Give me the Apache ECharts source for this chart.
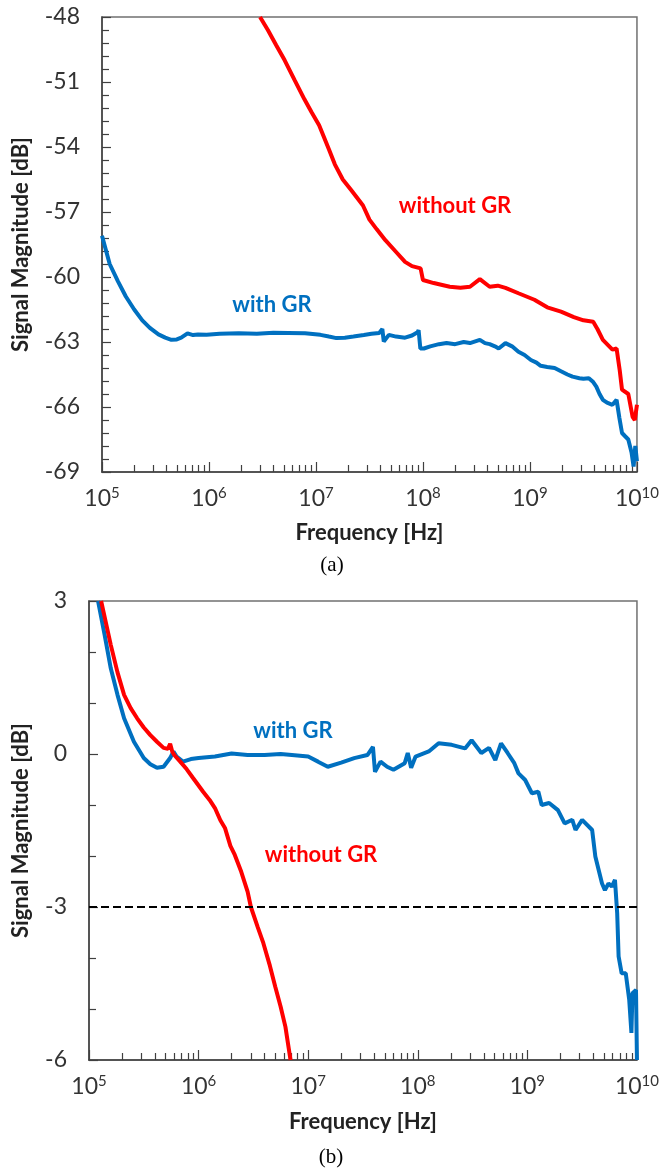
<!DOCTYPE html>
<html>
<head>
<meta charset="utf-8">
<script src="https://cdn.jsdelivr.net/npm/echarts@6/dist/echarts.min.js"></script>
<style>
  html, body { margin: 0; padding: 0; background: #fff; }
  #main { width: 662px; height: 1168px; }
</style>
</head>
<body>
<div id="main"></div>
<script>
// (a) with GR
const freqAWith = [1.0e5, 1.18e5, 1.41e5, 1.67e5, 2.0e5, 2.38e5, 2.8e5, 3.37e5, 3.9e5, 4.45e5, 5.0e5, 5.5e5, 6.3e5, 7.1e5, 7.9e5, 9.5e5,
  1.26e6, 1.9e6, 2.8e6, 4.0e6, 5.5e6, 7.9e6, 1.1e7, 1.32e7, 1.55e7, 1.86e7, 2.24e7, 2.8e7, 3.3e7, 3.9e7, 4.17e7, 4.3e7, 4.8e7,
  5.6e7, 6.8e7, 7.9e7, 8.9e7, 9.1e7, 9.45e7, 1.02e8, 1.17e8, 1.41e8, 1.66e8, 2.0e8, 2.4e8, 2.75e8, 3.4e8, 3.8e8, 4.2e8, 4.7e8,
  5.1e8, 5.9e8, 6.8e8, 7.8e8, 8.9e8, 1.02e9, 1.15e9, 1.26e9, 1.45e9, 1.7e9, 1.95e9, 2.24e9, 2.5e9, 2.9e9, 3.16e9, 3.55e9, 3.9e9,
  4.17e9, 4.47e9, 4.8e9, 5.25e9, 5.9e9, 6.45e9, 6.85e9, 7.25e9, 7.75e9, 8.3e9, 8.9e9, 9.3e9, 9.65e9, 1.0e10]
const magAWith = [-58.1, -59.4, -60.2, -60.9, -61.5, -62.0, -62.35, -62.65, -62.8, -62.9, -62.88, -62.8, -62.6, -62.68, -62.65, -62.67,
  -62.62, -62.6, -62.62, -62.57, -62.58, -62.6, -62.67, -62.75, -62.82, -62.8, -62.75, -62.68, -62.62, -62.58, -62.4, -62.98, -62.67,
  -62.75, -62.8, -62.7, -62.55, -62.45, -63.3, -63.3, -63.2, -63.1, -63.05, -63.1, -63.0, -63.05, -62.9, -63.05, -63.1, -63.2,
  -63.3, -63.05, -63.2, -63.45, -63.6, -63.83, -63.95, -64.1, -64.15, -64.2, -64.35, -64.5, -64.6, -64.67, -64.7, -64.67, -64.85,
  -65.06, -65.4, -65.67, -65.8, -65.9, -65.67, -66.5, -67.2, -67.35, -67.5, -68.1, -68.75, -67.8, -68.5]

// (a) without GR
const freqANo = [3.0e6, 3.55e6, 4.25e6, 5.1e6, 6.3e6, 7.8e6, 9.1e6, 1.07e7, 1.32e7, 1.5e7, 1.78e7, 2.14e7, 2.75e7, 3.16e7, 3.7e7,
  4.45e7, 5.5e7, 6.8e7, 7.9e7, 9.5e7, 1.0e8, 1.26e8, 1.78e8, 2.24e8, 2.75e8, 3.4e8, 4.2e8, 5.0e8, 5.9e8, 7.8e8, 1.1e9, 1.45e9,
  1.95e9, 2.57e9, 3.16e9, 3.9e9, 4.27e9, 4.8e9, 5.9e9, 6.45e9, 6.9e9, 7.25e9, 8.3e9, 9.1e9, 9.55e9, 1.0e10]
const magANo = [-48.0, -48.6, -49.3, -50.0, -50.9, -51.8, -52.4, -53.0, -54.1, -54.8, -55.5, -56.0, -56.7, -57.35, -57.8,
  -58.3, -58.8, -59.3, -59.5, -59.6, -60.14, -60.28, -60.45, -60.5, -60.45, -60.1, -60.45, -60.4, -60.5, -60.75, -61.05, -61.4,
  -61.6, -61.85, -62.0, -62.07, -62.4, -62.9, -63.35, -63.3, -64.3, -65.2, -65.4, -66.45, -66.6, -65.9]

// (b) with GR
const freqBWith = [1.21e5, 1.39e5, 1.58e5, 1.82e5, 2.09e5, 2.57e5, 3.16e5, 3.63e5, 4.17e5, 4.79e5, 5.5e5, 5.9e5, 6.3e5, 7.2e5, 8.5e5,
  1.0e6, 1.41e6, 2.0e6, 2.8e6, 4.0e6, 5.6e6, 7.1e6, 1.0e7, 1.23e7, 1.51e7, 2.0e7, 2.63e7, 3.47e7, 3.9e7, 4.07e7, 4.57e7, 5.25e7,
  6.0e7, 7.6e7, 8.1e7, 8.7e7, 9.55e7, 1.26e8, 1.55e8, 2.04e8, 2.7e8, 3.1e8, 3.8e8, 4.47e8, 5.1e8, 5.75e8, 6.6e8, 7.6e8, 8.3e8,
  9.55e8, 1.1e9, 1.26e9, 1.35e9, 1.58e9, 1.9e9, 2.19e9, 2.57e9, 2.75e9, 3.16e9, 3.9e9, 4.17e9, 4.8e9, 5.1e9, 5.5e9, 5.9e9, 6.3e9,
  6.6e9, 6.8e9, 7.25e9, 7.9e9, 8.5e9, 8.9e9, 9.1e9, 9.8e9, 1.0e10]
const magBWith = [3.0, 2.33, 1.68, 1.16, 0.7, 0.24, -0.08, -0.2, -0.27, -0.25, -0.08, 0.05, -0.05, -0.15, -0.1,
  -0.08, -0.05, 0.01, -0.02, -0.02, 0.0, -0.02, -0.05, -0.15, -0.25, -0.17, -0.08, -0.02, 0.14, -0.35, -0.15, -0.25,
  -0.31, -0.18, 0.02, -0.27, -0.05, 0.05, 0.21, 0.18, 0.11, 0.27, 0.02, 0.12, -0.12, 0.21, 0.02, -0.18, -0.38,
  -0.51, -0.77, -0.74, -1.0, -0.96, -1.1, -1.36, -1.29, -1.49, -1.29, -1.49, -2.01, -2.54, -2.67, -2.54, -2.6, -2.47,
  -3.12, -3.97, -4.3, -4.3, -4.82, -5.47, -4.69, -4.63, -6.0]

// (b) without GR
const freqBNo = [1.29e5, 1.58e5, 1.82e5, 2.09e5, 2.4e5, 2.75e5, 3.16e5, 3.63e5, 4.17e5, 4.79e5, 5.25e5, 5.5e5, 5.75e5, 6.0e5, 6.8e5,
  7.8e5, 8.9e5, 1.1e6, 1.26e6, 1.41e6, 1.58e6, 1.74e6, 1.95e6, 2.14e6, 2.45e6, 2.8e6, 3.0e6, 3.47e6, 3.9e6, 4.47e6, 5.0e6,
  5.6e6, 6.2e6, 6.9e6]
const magBNo = [3.0, 2.14, 1.6, 1.16, 0.9, 0.7, 0.52, 0.37, 0.24, 0.12, 0.1, 0.2, 0.05, -0.02, -0.15,
  -0.3, -0.47, -0.74, -0.9, -1.06, -1.3, -1.45, -1.8, -1.98, -2.31, -2.7, -3.0, -3.4, -3.71, -4.15, -4.56,
  -4.95, -5.35, -6.0]

const decades = [1e5, 1e6, 1e7, 1e8, 1e9, 1e10]
const minorTicks = []
for (let d = 5; d < 10; d++) {
  for (let k = 2; k <= 9; k++) minorTicks.push(k * Math.pow(10, d))
}
const cutoffLevel = -3

const BLUE = '#0070C0'
const RED = '#FF0000'
const AXIS = '#404040'
const FONT = 'Lato'

function pairs (xs, ys) {
  return xs.map((x, i) => [x, ys[i]])
}

function xMain (grid, nameGap) {
  return {
    type: 'log',
    gridIndex: grid,
    min: 1e5,
    max: 1e10,
    position: 'bottom',
    axisLine: { onZero: false, lineStyle: { color: AXIS, width: 1.5 } },
    axisTick: { inside: true, length: 10, customValues: decades, lineStyle: { color: AXIS, width: 1.2 } },
    axisLabel: {
      customValues: decades,
      margin: 14,
      formatter: v => '{b|10}{s|' + Math.round(Math.log10(v)) + '}',
      rich: {
        b: { fontFamily: FONT, fontSize: 23, lineHeight: 26, color: '#333' },
        s: { fontFamily: FONT, fontSize: 15, lineHeight: 15, verticalAlign: 'top', color: '#333' }
      }
    },
    splitLine: { show: false },
    name: 'Frequency [Hz]',
    nameLocation: 'middle',
    nameGap: nameGap,
    nameTextStyle: { fontFamily: FONT, fontWeight: 'bold', fontSize: 22, color: '#222' }
  }
}

function xMinor (grid) {
  return {
    type: 'log',
    gridIndex: grid,
    min: 1e5,
    max: 1e10,
    position: 'bottom',
    axisLine: { show: false, onZero: false },
    axisTick: { inside: true, length: 7, customValues: minorTicks, lineStyle: { color: AXIS, width: 1.2 } },
    axisLabel: { show: false },
    splitLine: { show: false }
  }
}

function yAxis (grid, min, max, minorSplit, nameGap) {
  return {
    type: 'value',
    gridIndex: grid,
    min: min,
    max: max,
    interval: 3,
    axisLine: { show: true, onZero: false, lineStyle: { color: AXIS, width: 1.5 } },
    axisTick: { show: true, inside: true, length: 9, lineStyle: { color: AXIS, width: 1.2 } },
    minorTick: { show: true, splitNumber: minorSplit, length: 7, lineStyle: { color: AXIS, width: 1.2 } },
    splitLine: { show: false },
    axisLabel: { fontFamily: FONT, fontSize: 23, color: '#333', margin: 22 },
    name: 'Signal Magnitude [dB]',
    nameLocation: 'middle',
    nameGap: nameGap,
    nameRotate: 90,
    nameTextStyle: { fontFamily: FONT, fontWeight: 'bold', fontSize: 22, color: '#222' }
  }
}

function lineSeries (xi, yi, data, color) {
  return {
    type: 'line',
    xAxisIndex: xi,
    yAxisIndex: yi,
    data: data,
    showSymbol: false,
    symbol: 'none',
    clip: true,
    lineStyle: { color: color, width: 4 }
  }
}

function note (text, x, y, color) {
  return {
    type: 'text',
    style: {
      text: text, x: x, y: y,
      font: 'bold 22px ' + FONT,
      fill: color,
      textAlign: 'center',
      textVerticalAlign: 'middle'
    }
  }
}

function caption (text, x, y) {
  return {
    type: 'text',
    style: {
      text: text, x: x, y: y,
      font: '21px "Liberation Serif"',
      fill: '#000',
      textAlign: 'center',
      textVerticalAlign: 'middle'
    }
  }
}

const chart = echarts.init(document.getElementById('main'))

const cutoff = lineSeries(2, 1, pairs(freqBWith, magBWith), BLUE)
cutoff.markLine = {
  silent: true,
  symbol: 'none',
  label: { show: false },
  lineStyle: { type: [8, 4], color: '#000', width: 2 },
  data: [{ yAxis: cutoffLevel }]
}

chart.setOption({
  animation: false,
  backgroundColor: '#fff',
  grid: [
    { left: 102, top: 17, width: 550, height: 455, show: true, borderColor: '#707070', borderWidth: 1.5 },
    { left: 89, top: 601, width: 560, height: 459, show: true, borderColor: '#707070', borderWidth: 1.5 }
  ],
  xAxis: [xMain(0, 50), xMinor(0), xMain(1, 51), xMinor(1)],
  yAxis: [yAxis(0, -69, -48, 5, 70), yAxis(1, -6, 3, 3, 57)],
  series: [
    lineSeries(0, 0, pairs(freqAWith, magAWith), BLUE),
    lineSeries(0, 0, pairs(freqANo, magANo), RED),
    cutoff,
    lineSeries(2, 1, pairs(freqBNo, magBNo), RED)
  ],
  graphic: [
    note('with GR', 272, 305, BLUE),
    note('without GR', 455, 206, RED),
    note('with GR', 293, 731, BLUE),
    note('without GR', 321, 855, RED),
    caption('(a)', 332, 565),
    caption('(b)', 331, 1157)
  ]
})
</script>
</body>
</html>
